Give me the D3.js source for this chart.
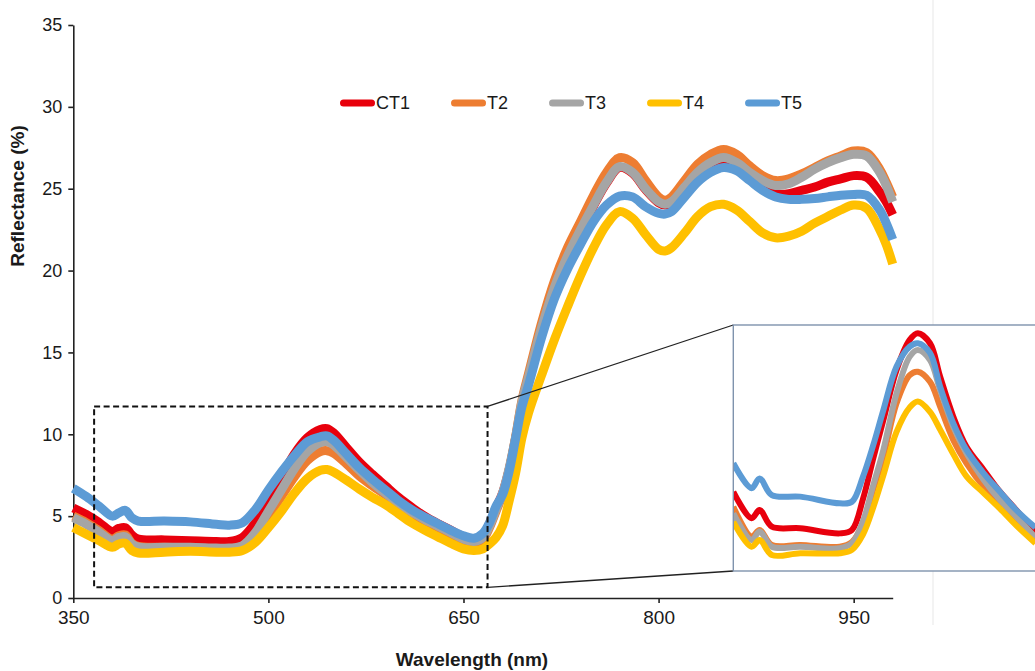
<!DOCTYPE html>
<html><head><meta charset="utf-8">
<script src="https://cdn.jsdelivr.net/npm/d3@7"></script>
<style>
body{margin:0;background:#fff}
svg{display:block}
text{font-family:"Liberation Sans",Arial,Helvetica,sans-serif;fill:#1a1a1a}
</style>
</head><body>
<svg id="chart" width="1035" height="671"></svg>
<script>
// ---------- DATA ----------
const seriesNames = ["CT1", "T2", "T3", "T4", "T5"];
const seriesColors = ["#e8000b", "#ed7d31", "#a5a5a5", "#ffc000", "#5b9bd5"];
const xTicks = [350, 500, 650, 800, 950];
const yTicks = [0, 5, 10, 15, 20, 25, 30, 35];

const wavelengths = [350,360,370,380,385,390,395,400,420,440,460,470,480,490,500,510,520,530,540,545,550,560,570,580,590,600,610,620,630,640,650,658,665,670,675,680,685,690,695,700,710,720,730,740,750,760,770,780,790,800,805,810,820,830,840,850,860,870,880,890,900,910,920,930,940,950,960,970,975,980];

const CT1 = [5.5,5.1,4.6,4.05,4.25,4.3,3.85,3.6,3.55,3.5,3.45,3.45,3.7,4.6,6.0,7.4,8.8,9.8,10.3,10.35,10.1,9.2,8.3,7.55,6.85,6.15,5.55,5.0,4.55,4.15,3.75,3.55,3.85,4.55,5.5,6.4,7.8,9.7,11.8,13.2,16.1,18.7,20.7,22.4,23.95,25.35,26.3,25.95,24.95,24.15,24.0,24.15,25.0,25.8,26.4,26.6,26.3,25.7,25.1,24.7,24.7,24.9,25.1,25.4,25.6,25.8,25.7,24.8,24.2,23.4];
const T2 = [5.0,4.6,4.1,3.6,3.8,3.85,3.35,3.15,3.1,3.05,3.0,3.0,3.15,3.8,5.0,6.2,7.4,8.4,8.95,9.0,8.85,8.2,7.45,6.85,6.3,5.7,5.15,4.7,4.3,3.9,3.5,3.35,3.6,4.3,5.3,6.3,7.8,9.8,12.1,13.7,16.8,19.4,21.4,23.0,24.6,26.0,26.9,26.6,25.5,24.5,24.3,24.5,25.5,26.5,27.1,27.4,27.1,26.4,25.8,25.5,25.6,25.9,26.3,26.7,27.0,27.3,27.2,26.2,25.4,24.5];
const T3 = [4.9,4.5,4.0,3.5,3.7,3.75,3.3,3.1,3.1,3.1,3.05,3.05,3.2,4.0,5.3,6.6,7.9,8.95,9.5,9.55,9.35,8.6,7.8,7.05,6.4,5.8,5.25,4.8,4.4,4.0,3.6,3.45,3.7,4.4,5.4,6.4,7.9,9.8,12.0,13.5,16.5,19.0,20.9,22.5,24.0,25.4,26.35,26.0,25.0,24.2,24.05,24.2,25.1,26.0,26.6,26.9,26.6,26.0,25.5,25.2,25.3,25.7,26.2,26.6,26.9,27.1,27.0,26.0,25.2,24.2];
const T4 = [4.3,3.9,3.5,3.1,3.3,3.35,2.9,2.75,2.8,2.85,2.8,2.8,2.9,3.4,4.3,5.3,6.4,7.3,7.8,7.85,7.7,7.2,6.65,6.15,5.7,5.15,4.6,4.15,3.75,3.35,3.0,2.9,3.0,3.3,3.7,4.4,5.9,7.6,9.8,11.3,13.6,15.8,17.8,19.7,21.4,22.8,23.6,23.2,22.2,21.3,21.2,21.4,22.3,23.3,23.9,24.05,23.7,23.0,22.3,22.0,22.1,22.4,22.9,23.3,23.7,24.0,23.8,22.5,21.6,20.4];
const T5 = [6.7,6.2,5.6,5.0,5.2,5.35,4.9,4.7,4.7,4.65,4.5,4.45,4.6,5.4,6.6,7.7,8.7,9.55,9.85,9.9,9.65,8.8,7.95,7.25,6.6,5.95,5.4,4.95,4.55,4.15,3.8,3.65,3.95,4.6,5.6,6.3,7.7,9.7,11.7,13.0,15.9,18.3,20.1,21.6,23.0,24.0,24.55,24.5,23.9,23.5,23.45,23.6,24.5,25.4,26.0,26.3,26.1,25.5,24.9,24.5,24.35,24.35,24.4,24.5,24.6,24.65,24.6,23.7,22.9,21.9];

// zoomed window (dashed box) in data units
const zoomWave = [366, 668.5];
const zoomRefl = [0.65, 11.7];

// inset (enlarged view of the dashed window)
const insetWavelengths = [366,384,392,404,432,471,483,494,504,514,527,540,548,560,570,583,596,613,629,645,664];
const insetCT1 = [4.21,3.02,3.39,2.64,2.57,2.34,2.49,3.9,5.7,7.43,9.68,11.03,11.33,10.88,9.38,7.58,6.23,5.19,4.21,3.39,2.35];
const insetT2  = [3.54,2.19,2.49,1.82,1.82,1.74,1.95,2.8,4.3,5.78,8.18,9.45,9.6,9.15,8.03,6.53,5.49,4.44,3.69,2.94,2.0];
const insetT3  = [3.24,2.04,2.42,1.74,1.74,1.67,1.9,2.9,4.5,6.09,8.63,10.28,10.58,10.13,8.78,7.13,5.94,4.74,3.84,3.09,2.15];
const insetT4  = [2.86,1.74,2.04,1.37,1.45,1.45,1.6,2.3,3.5,4.95,6.9,8.0,8.26,7.8,7.0,5.9,4.9,4.15,3.45,2.7,1.9];
const insetT5  = [5.49,4.37,4.81,4.06,3.99,3.69,3.76,4.9,6.3,7.88,9.83,10.73,10.88,10.45,8.93,7.28,6.09,5.04,4.21,3.39,2.6];

const mainSeries = [CT1, T2, T3, T4, T5];
const insetSeries = [insetCT1, insetT2, insetT3, insetT4, insetT5];

// ---------- LAYOUT ----------
const svg = d3.select("#chart");
const x = d3.scaleLinear().domain([350, 980]).range([73.3, 892.7]);
const y = d3.scaleLinear().domain([0, 35]).range([598, 25]);

const defs = svg.append("defs");
const soft = defs.append("filter").attr("id", "soft").attr("x", "-5%").attr("y", "-5%").attr("width", "110%").attr("height", "110%");
soft.append("feGaussianBlur").attr("stdDeviation", 0.7);

// faint scan edge
svg.append("line").attr("x1", 933).attr("x2", 933).attr("y1", 0).attr("y2", 625)
  .attr("stroke", "#efefef").attr("stroke-width", 1.5);

// axes
const axisColor = "#222";
const gx = svg.append("g").attr("transform", `translate(0,${y(0)})`)
  .call(d3.axisBottom(x).tickValues(xTicks).tickSize(5).tickSizeOuter(0).tickPadding(8));
gx.selectAll("text").attr("font-size", 19).attr("fill", "#1a1a1a");
const gy = svg.append("g").attr("transform", `translate(${x(350)},0)`)
  .call(d3.axisLeft(y).tickValues(yTicks).tickSize(5).tickSizeOuter(0).tickPadding(6));
gy.selectAll("text").attr("font-size", 18).attr("fill", "#1a1a1a");
svg.selectAll(".domain, .tick line").attr("stroke", axisColor).attr("stroke-width", 1.6);

// axis titles
svg.append("text").attr("x", 472).attr("y", 666).attr("text-anchor", "middle")
  .attr("font-size", 19).attr("font-weight", "bold").text("Wavelength (nm)");
svg.append("text").attr("transform", "translate(24,196) rotate(-90)").attr("text-anchor", "middle")
  .attr("font-size", 19).attr("font-weight", "bold").text("Reflectance (%)");

// main curves
const line = d3.line().x((d, i) => x(wavelengths[i])).y(d => y(d)).curve(d3.curveCatmullRom.alpha(0.5));
const gLines = svg.append("g").attr("filter", "url(#soft)");
mainSeries.forEach((s, k) => {
  gLines.append("path").datum(s).attr("d", line).attr("fill", "none")
    .attr("stroke", seriesColors[k]).attr("stroke-width", 9)
    .attr("stroke-linejoin", "round").attr("stroke-linecap", "butt");
});

// dashed zoom window
const bx0 = x(zoomWave[0]), bx1 = x(zoomWave[1]), by0 = y(zoomRefl[1]), by1 = y(zoomRefl[0]);
svg.append("rect").attr("x", bx0).attr("y", by0).attr("width", bx1 - bx0).attr("height", by1 - by0)
  .attr("fill", "none").attr("stroke", "#111").attr("stroke-width", 2).attr("stroke-dasharray", "6,3.5");

// inset
const ix = d3.scaleLinear().domain(zoomWave).range([733.3, 1040]);
const iy = d3.scaleLinear().domain(zoomRefl).range([571, 325]);

// connectors
svg.append("line").attr("x1", bx1).attr("y1", by0).attr("x2", ix(zoomWave[0])).attr("y2", iy(zoomRefl[1]))
  .attr("stroke", "#222").attr("stroke-width", 1.3);
svg.append("line").attr("x1", bx1).attr("y1", by1).attr("x2", ix(zoomWave[0])).attr("y2", iy(zoomRefl[0]))
  .attr("stroke", "#222").attr("stroke-width", 1.3);

svg.append("rect").attr("x", ix(zoomWave[0])).attr("y", iy(zoomRefl[1]))
  .attr("width", ix(zoomWave[1]) - ix(zoomWave[0])).attr("height", iy(zoomRefl[0]) - iy(zoomRefl[1]))
  .attr("fill", "#fff").attr("stroke", "#7f93ad").attr("stroke-width", 1.4);

defs.append("clipPath").attr("id", "insetClip").append("rect")
  .attr("x", ix(zoomWave[0]) + 0.7).attr("y", iy(zoomRefl[1]) + 0.7)
  .attr("width", ix(zoomWave[1]) - ix(zoomWave[0])).attr("height", iy(zoomRefl[0]) - iy(zoomRefl[1]) - 1.4);

const iline = d3.line().x((d, i) => ix(insetWavelengths[i])).y(d => iy(d)).curve(d3.curveCatmullRom.alpha(0.5));
const gInset = svg.append("g").attr("clip-path", "url(#insetClip)").append("g").attr("filter", "url(#soft)");
insetSeries.forEach((s, k) => {
  gInset.append("path").datum(s).attr("d", iline).attr("fill", "none")
    .attr("stroke", seriesColors[k]).attr("stroke-width", 6)
    .attr("stroke-linejoin", "round").attr("stroke-linecap", "butt");
});

// legend
let lx = 340;
const ly = 103;
seriesNames.forEach((name, k) => {
  const g = svg.append("g");
  g.append("line").attr("x1", lx + 3.5).attr("x2", lx + 31.5).attr("y1", ly).attr("y2", ly)
    .attr("stroke", seriesColors[k]).attr("stroke-width", 7).attr("stroke-linecap", "round");
  const t = g.append("text").attr("x", lx + 36).attr("y", ly).attr("dy", "0.36em")
    .attr("font-size", 18).text(name);
  lx += 36 + t.node().getComputedTextLength() + 41;
});
</script>
</body></html>
